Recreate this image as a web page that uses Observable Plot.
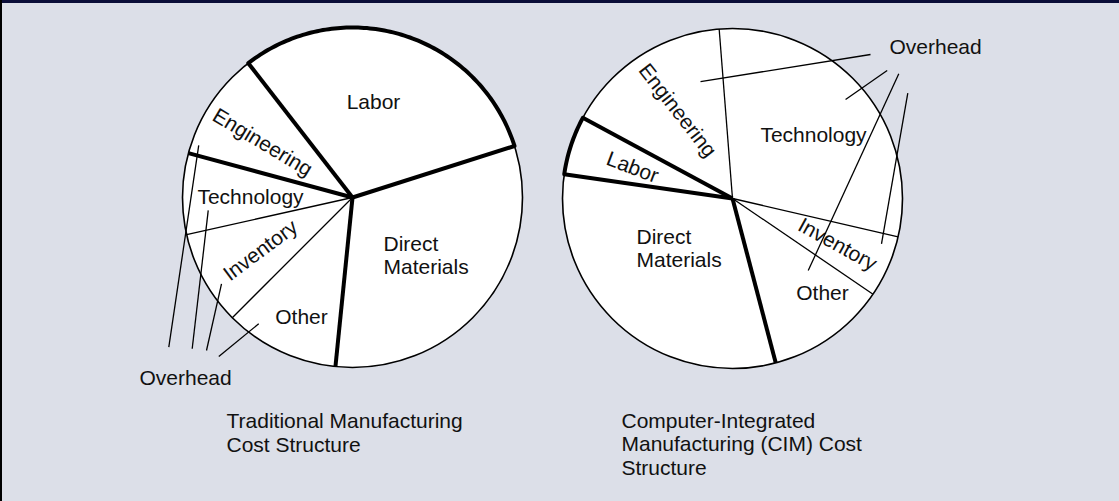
<!DOCTYPE html>
<html><head><meta charset="utf-8">
<script src="https://cdn.jsdelivr.net/npm/d3@7"></script>
<script src="https://cdn.jsdelivr.net/npm/@observablehq/plot@0.6"></script>
<style>
html,body{margin:0;padding:0;background:#dcdfe8;}
#wrap{position:relative;width:1119px;height:501px;background:#dcdfe8;overflow:hidden;}
#wrap svg{position:absolute;left:0;top:0;}
#topband{position:absolute;left:0;top:0;width:1119px;height:3px;background:#0a0d38;}
#leftband{position:absolute;left:0;top:0;width:2px;height:501px;background:#000;}
</style></head><body><div id="wrap"></div>
<script>
// ---------------- data ----------------
const tradCategories = ["Labor", "Direct Materials", "Other", "Inventory", "Technology", "Engineering"];
const tradShares     = [30.6, 31.5, 10.9, 9.0, 7.7, 10.3];
const cimCategories  = ["Technology", "Inventory", "Other", "Direct Materials", "Labor", "Engineering"];
const cimShares      = [29.9, 5.9, 11.4, 31.4, 5.6, 15.9];
const overheadMembers = ["Engineering", "Technology", "Inventory", "Other"];
const tradHeavyEdges = ["Labor", "Direct Materials", "Other", "Engineering"];
const cimHeavyEdges  = ["Direct Materials", "Labor", "Engineering"];
const tradCaption = "Traditional Manufacturing\nCost Structure";
const cimCaption  = "Computer-Integrated\nManufacturing (CIM) Cost\nStructure";
const overheadText = "Overhead";
const displayNames = {"Direct Materials": "Direct\nMaterials"};

// ---------------- layout ----------------
const W = 1119, H = 501;
const FS = 21;
const FONT = "'Liberation Sans', Arial, Helvetica, sans-serif";
const pies = [
  {
    key: "trad", cx: 352, cy: 197, r: 170, start: 322.2,
    cats: tradCategories, shares: tradShares, heavy: tradHeavyEdges,
    labels: {
      "Labor": {dx: 21, dy: -95, rot: 0},
      "Direct Materials": {dx: 31, dy: 58, rot: 0, anchor: "start"},
      "Other": {dx: -51, dy: 120, rot: 0},
      "Inventory": {dx: -92, dy: 53, rot: -36.7},
      "Technology": {dx: -102, dy: 0, rot: 0},
      "Engineering": {dx: -90, dy: -55, rot: 31}
    },
    caption: {text: tradCaption, x: 226, y: 410, lh: 1.15},
    overhead: {x: 139, y: 378,
      leaders: [
        {cat: "Engineering", ox: 29.3, oy: -31.3, ang: 288.7, f: 0.955},
        {cat: "Technology",  ox: 52.7, oy: -29.7, ang: 264.9, f: 0.852},
        {cat: "Inventory",   ox: 67,   oy: -28,   ang: 236.6, f: 0.923},
        {cat: "Other",       ox: 79.3, oy: -22,   ang: 216.6, f: 0.925}
      ]}
  },
  {
    key: "cim", cx: 732, cy: 198, r: 170, start: 355.5,
    cats: cimCategories, shares: cimShares, heavy: cimHeavyEdges,
    labels: {
      "Technology": {dx: 81, dy: -63, rot: 0},
      "Inventory": {dx: 105, dy: 46, rot: 29},
      "Other": {dx: 90, dy: 95, rot: 0},
      "Direct Materials": {dx: -96, dy: 50, rot: 0, anchor: "start"},
      "Labor": {dx: -100, dy: -31, rot: 20.6},
      "Engineering": {dx: -55, dy: -88, rot: 52}
    },
    caption: {text: cimCaption, x: 621, y: 410.5, lh: 1.12},
    overhead: {x: 889, y: 47,
      leaders: [
        {cat: "Engineering", ox: -19,  oy: 7,    ang: 344.7, f: 0.713},
        {cat: "Technology",  ox: -2.3, oy: 23,   ang: 48.8,  f: 0.884},
        {cat: "Other",       ox: 9.3,  oy: 26.3, ang: 133.6, f: 0.615},
        {cat: "Inventory",   ox: 18.3, oy: 45.7, ang: 106.9, f: 0.916}
      ]}
  }
];

// ---------------- geometry from data ----------------
const rad = a => a * Math.PI / 180;
const px = (p, a, rr) => p.cx + rr * Math.sin(rad(a));
const py = (p, a, rr) => p.cy - rr * Math.cos(rad(a));

const wedgePts = [], edges = [], heavyArcs = [], labels = [], leaders = [], captions = [], ohLabels = [], circles = [];
for (const p of pies) {
  const total = d3.sum(p.shares);
  let cum = 0;
  circles.push({x: p.cx, y: p.cy});
  p.cats.forEach((c, i) => {
    const a0 = p.start + 360 * cum / total;
    cum += p.shares[i];
    const a1 = p.start + 360 * cum / total;
    const id = p.key + "-" + c;
    const n = Math.max(2, Math.ceil((a1 - a0) / 1));
    wedgePts.push({id, x: p.cx, y: p.cy});
    for (let k = 0; k <= n; k++) {
      const a = a0 + (a1 - a0) * k / n;
      wedgePts.push({id, x: px(p, a, p.r), y: py(p, a, p.r)});
      if (c === "Labor") heavyArcs.push({id, x: px(p, a, p.r), y: py(p, a, p.r)});
    }
    wedgePts.push({id, x: p.cx, y: p.cy});
    edges.push({heavy: p.heavy.includes(c), x1: p.cx, y1: p.cy, x2: px(p, a0, p.r), y2: py(p, a0, p.r)});
    const L = p.labels[c];
    labels.push({text: displayNames[c] || c, x: p.cx + L.dx, y: p.cy + L.dy, rot: L.rot, anchor: L.anchor || "middle"});
  });
  for (const l of p.overhead.leaders) {
    if (!overheadMembers.includes(l.cat)) continue;
    leaders.push({x1: p.overhead.x + l.ox, y1: p.overhead.y + l.oy, x2: px(p, l.ang, p.r * l.f), y2: py(p, l.ang, p.r * l.f)});
  }
  ohLabels.push({text: overheadText, x: p.overhead.x, y: p.overhead.y});
  captions.push(p.caption);
}

const chart = Plot.plot({
  width: W, height: H,
  margin: 0, marginTop: 0, marginRight: 0, marginBottom: 0, marginLeft: 0,
  x: {domain: [0, W], range: [0, W], axis: null},
  y: {domain: [0, H], range: [0, H], axis: null},
  style: {background: "transparent", fontFamily: FONT, color: "#111"},
  marks: [
    Plot.line(wedgePts, {x: "x", y: "y", z: "id", fill: "white", stroke: "none", curve: "linear"}),
    Plot.link(edges.filter(d => !d.heavy), {x1: "x1", y1: "y1", x2: "x2", y2: "y2", stroke: "#000", strokeWidth: 1.3}),
    Plot.dot(circles, {x: "x", y: "y", r: 170, fill: "none", stroke: "#000", strokeWidth: 1.6}),
    Plot.link(edges.filter(d => d.heavy), {x1: "x1", y1: "y1", x2: "x2", y2: "y2", stroke: "#000", strokeWidth: 4, strokeLinecap: "butt"}),
    Plot.line(heavyArcs, {x: "x", y: "y", z: "id", stroke: "#000", strokeWidth: 4, fill: "none"}),
    Plot.text(labels.filter(d => d.anchor === "middle"), {x: "x", y: "y", text: "text", rotate: "rot", fontSize: FS, fill: "#111", textAnchor: "middle", lineAnchor: "middle"}),
    Plot.text(labels.filter(d => d.anchor === "start"), {x: "x", y: "y", text: "text", fontSize: FS, fill: "#111", textAnchor: "start", lineAnchor: "middle", lineHeight: 1.1}),
    Plot.link(leaders, {x1: "x1", y1: "y1", x2: "x2", y2: "y2", stroke: "#000", strokeWidth: 1.3}),
    Plot.text(ohLabels, {x: "x", y: "y", text: "text", fontSize: FS, fill: "#111", textAnchor: "start", lineAnchor: "middle"}),
    Plot.text(captions.slice(0, 1), {x: "x", y: "y", text: "text", fontSize: FS, fill: "#111", textAnchor: "start", lineAnchor: "top", lineHeight: captions[0].lh}),
    Plot.text(captions.slice(1), {x: "x", y: "y", text: "text", fontSize: FS, fill: "#111", textAnchor: "start", lineAnchor: "top", lineHeight: captions[1].lh})
  ]
});
const wrap = document.getElementById("wrap");
wrap.appendChild(chart);
const tb = document.createElement("div"); tb.id = "topband"; wrap.appendChild(tb);
const lb = document.createElement("div"); lb.id = "leftband"; wrap.appendChild(lb);
</script></body></html>
